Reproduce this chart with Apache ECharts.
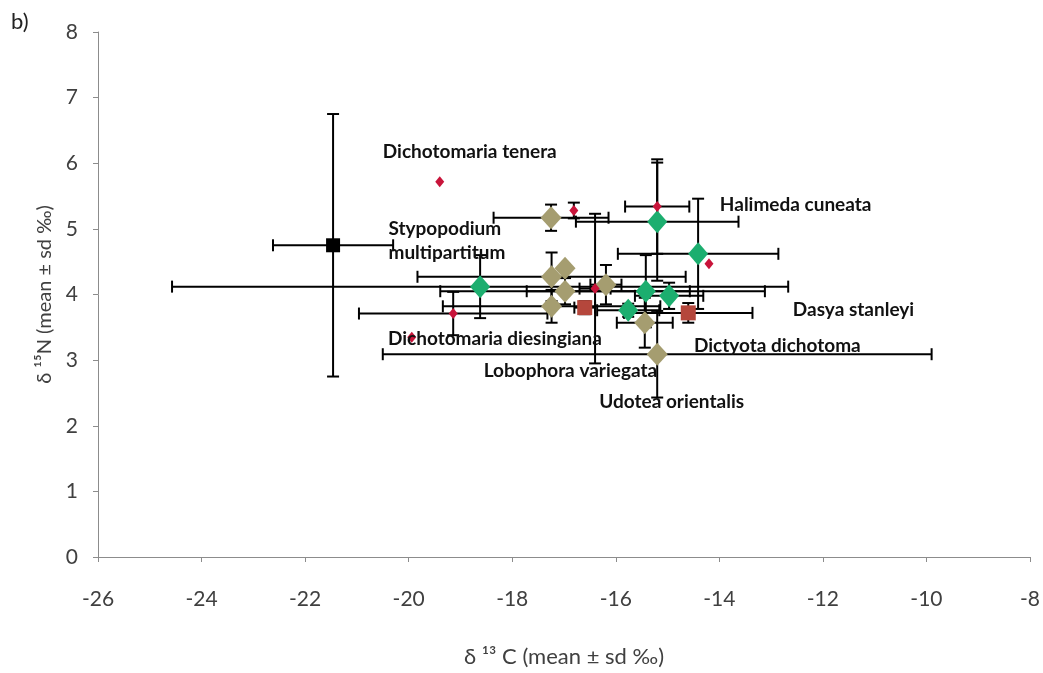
<!DOCTYPE html>
<html><head><meta charset="utf-8">
<script src="https://cdn.jsdelivr.net/npm/echarts@6/dist/echarts.min.js"></script>
<style>html,body{margin:0;padding:0;background:#fff}#c{width:1043px;height:673px}</style>
</head><body><div id="c"></div>
<script>
// ---- data: [x mean, y mean, x sd, y sd] ----
const blackPts = [[-21.46, 4.75, 1.16, 2.00]];
const greenPts = [
  [-18.62, 4.12, 5.95, 0.48],
  [-15.20, 5.11, 1.57, 0.90],
  [-14.41, 4.62, 1.55, 0.84],
  [-15.42, 4.05, 2.30, 0.55],
  [-14.97, 3.98, 0.66, 0.20],
  [-15.76, 3.76, 0.60, 0.10]
];
const olivePts = [
  [-17.25, 5.17, 1.11, 0.20],
  [-17.24, 4.27, 2.59, 0.37],
  [-16.98, 4.40, 0.00, 0.00],
  [-16.98, 4.05, 2.41, 0.20],
  [-17.24, 3.82, 2.10, 0.25],
  [-16.19, 4.15, 0.30, 0.30],
  [-15.44, 3.57, 0.54, 0.38],
  [-15.20, 3.09, 5.30, 0.66]
];
const redPts = [
  [-19.40, 5.72, 0.00, 0.00],
  [-16.81, 5.28, 0.00, 0.12],
  [-15.20, 5.34, 0.62, 0.72],
  [-16.40, 4.09, 0.30, 1.14],
  [-14.20, 4.47, 0.00, 0.00],
  [-19.14, 3.71, 1.82, 0.33],
  [-19.94, 3.35, 0.00, 0.00]
];
const brownPts = [
  [-16.60, 3.80, 0.20, 0.10],
  [-14.60, 3.72, 1.24, 0.15]
];
// species annotations: [text, x (left edge), y (middle)]
const annotations = [
  ['Dichotomaria tenera', -20.50, 6.17],
  ['Halimeda cuneata', -13.99, 5.37],
  ['Stypopodium\nmultipartitum', -20.39, 4.81],
  ['Dasya stanleyi', -12.58, 3.77],
  ['Dichotomaria diesingiana', -20.40, 3.33],
  ['Dictyota dichotoma', -14.49, 3.21],
  ['Lobophora variegata', -18.55, 2.84],
  ['Udotea orientalis', -16.32, 2.36]
];
const xMin = -26, xMax = -8, xStep = 2;
const yMin = 0, yMax = 8, yStep = 1;

const allPts = [].concat(blackPts, greenPts, olivePts, redPts, brownPts);

function errRender(params, api) {
  const x = api.value(0), y = api.value(1), xs = api.value(2), ys = api.value(3);
  const st = {stroke: '#000', lineWidth: 2};
  const cap = 6;
  const ch = [];
  if (xs > 0) {
    const a = api.coord([x - xs, y]), b = api.coord([x + xs, y]);
    ch.push({type: 'line', shape: {x1: a[0], y1: a[1], x2: b[0], y2: b[1]}, style: st});
    ch.push({type: 'line', shape: {x1: a[0], y1: a[1] - cap, x2: a[0], y2: a[1] + cap}, style: st});
    ch.push({type: 'line', shape: {x1: b[0], y1: b[1] - cap, x2: b[0], y2: b[1] + cap}, style: st});
  }
  if (ys > 0) {
    const a = api.coord([x, y - ys]), b = api.coord([x, y + ys]);
    ch.push({type: 'line', shape: {x1: a[0], y1: a[1], x2: b[0], y2: b[1]}, style: st});
    ch.push({type: 'line', shape: {x1: a[0] - cap, y1: a[1], x2: a[0] + cap, y2: a[1]}, style: st});
    ch.push({type: 'line', shape: {x1: b[0] - cap, y1: b[1], x2: b[0] + cap, y2: b[1]}, style: st});
  }
  return {type: 'group', children: ch};
}

function textRender(params, api) {
  const a = annotations[params.dataIndex];
  const p = api.coord([a[1], a[2]]);
  return {type: 'text', x: p[0], y: p[1], style: {
    text: a[0], fill: '#111', font: 'bold 19px Lato', align: 'left', verticalAlign: 'middle', lineHeight: 24
  }};
}

const chart = echarts.init(document.getElementById('c'), null, {renderer: 'canvas'});
chart.setOption({
  animation: false,
  backgroundColor: '#fff',
  grid: {left: 98, right: 13, top: 32, bottom: 115},
  graphic: [{type: 'text', left: 11, top: 11, style: {text: 'b)', font: '22px Lato', fill: '#222'}}],
  xAxis: {
    type: 'value', min: xMin, max: xMax, interval: xStep,
    axisLine: {onZero: false, lineStyle: {color: '#8c8c8c', width: 1}},
    axisTick: {show: true, length: 5, lineStyle: {color: '#8c8c8c'}},
    splitLine: {show: false},
    axisLabel: {color: '#404040', fontSize: 21, fontFamily: 'Lato', margin: 32},
    name: 'δ ¹³ C (mean ± sd ‰)', nameLocation: 'middle', nameGap: 89,
    nameTextStyle: {color: '#404040', fontSize: 22, fontFamily: 'Lato'}
  },
  yAxis: {
    type: 'value', min: yMin, max: yMax, interval: yStep,
    axisLine: {show: true, lineStyle: {color: '#8c8c8c', width: 1}},
    axisTick: {show: true, length: 5, lineStyle: {color: '#8c8c8c'}},
    splitLine: {show: false},
    axisLabel: {color: '#404040', fontSize: 21, fontFamily: 'Lato', margin: 20},
    name: 'δ ¹⁵N (mean ± sd ‰)', nameLocation: 'middle', nameGap: 42, nameRotate: 90,
    nameTextStyle: {color: '#404040', fontSize: 20, fontFamily: 'Lato'}
  },
  series: [
    {type: 'custom', name: 'err', data: allPts, renderItem: errRender, z: 2, silent: true},
    {type: 'scatter', name: 'black', data: blackPts, symbol: 'rect', symbolSize: 14, itemStyle: {color: '#000', opacity: 1}, z: 3},
    {type: 'scatter', name: 'olive', data: olivePts, symbol: 'diamond', symbolSize: [21, 23], itemStyle: {color: '#a59d70', opacity: 1}, z: 3},
    {type: 'scatter', name: 'green', data: greenPts, symbol: 'diamond', symbolSize: [20, 23], itemStyle: {color: '#1cae6f', opacity: 1}, z: 3},
    {type: 'scatter', name: 'brown', data: brownPts, symbol: 'rect', symbolSize: 15, itemStyle: {color: '#b5473c', opacity: 1}, z: 3},
    {type: 'scatter', name: 'red', data: redPts, symbol: 'diamond', symbolSize: [9, 11], itemStyle: {color: '#c8143a', opacity: 1}, z: 4},
    {type: 'custom', name: 'labels', data: annotations.map(a => [a[1], a[2]]), renderItem: textRender, z: 5, silent: true}
  ]
});
</script></body></html>
